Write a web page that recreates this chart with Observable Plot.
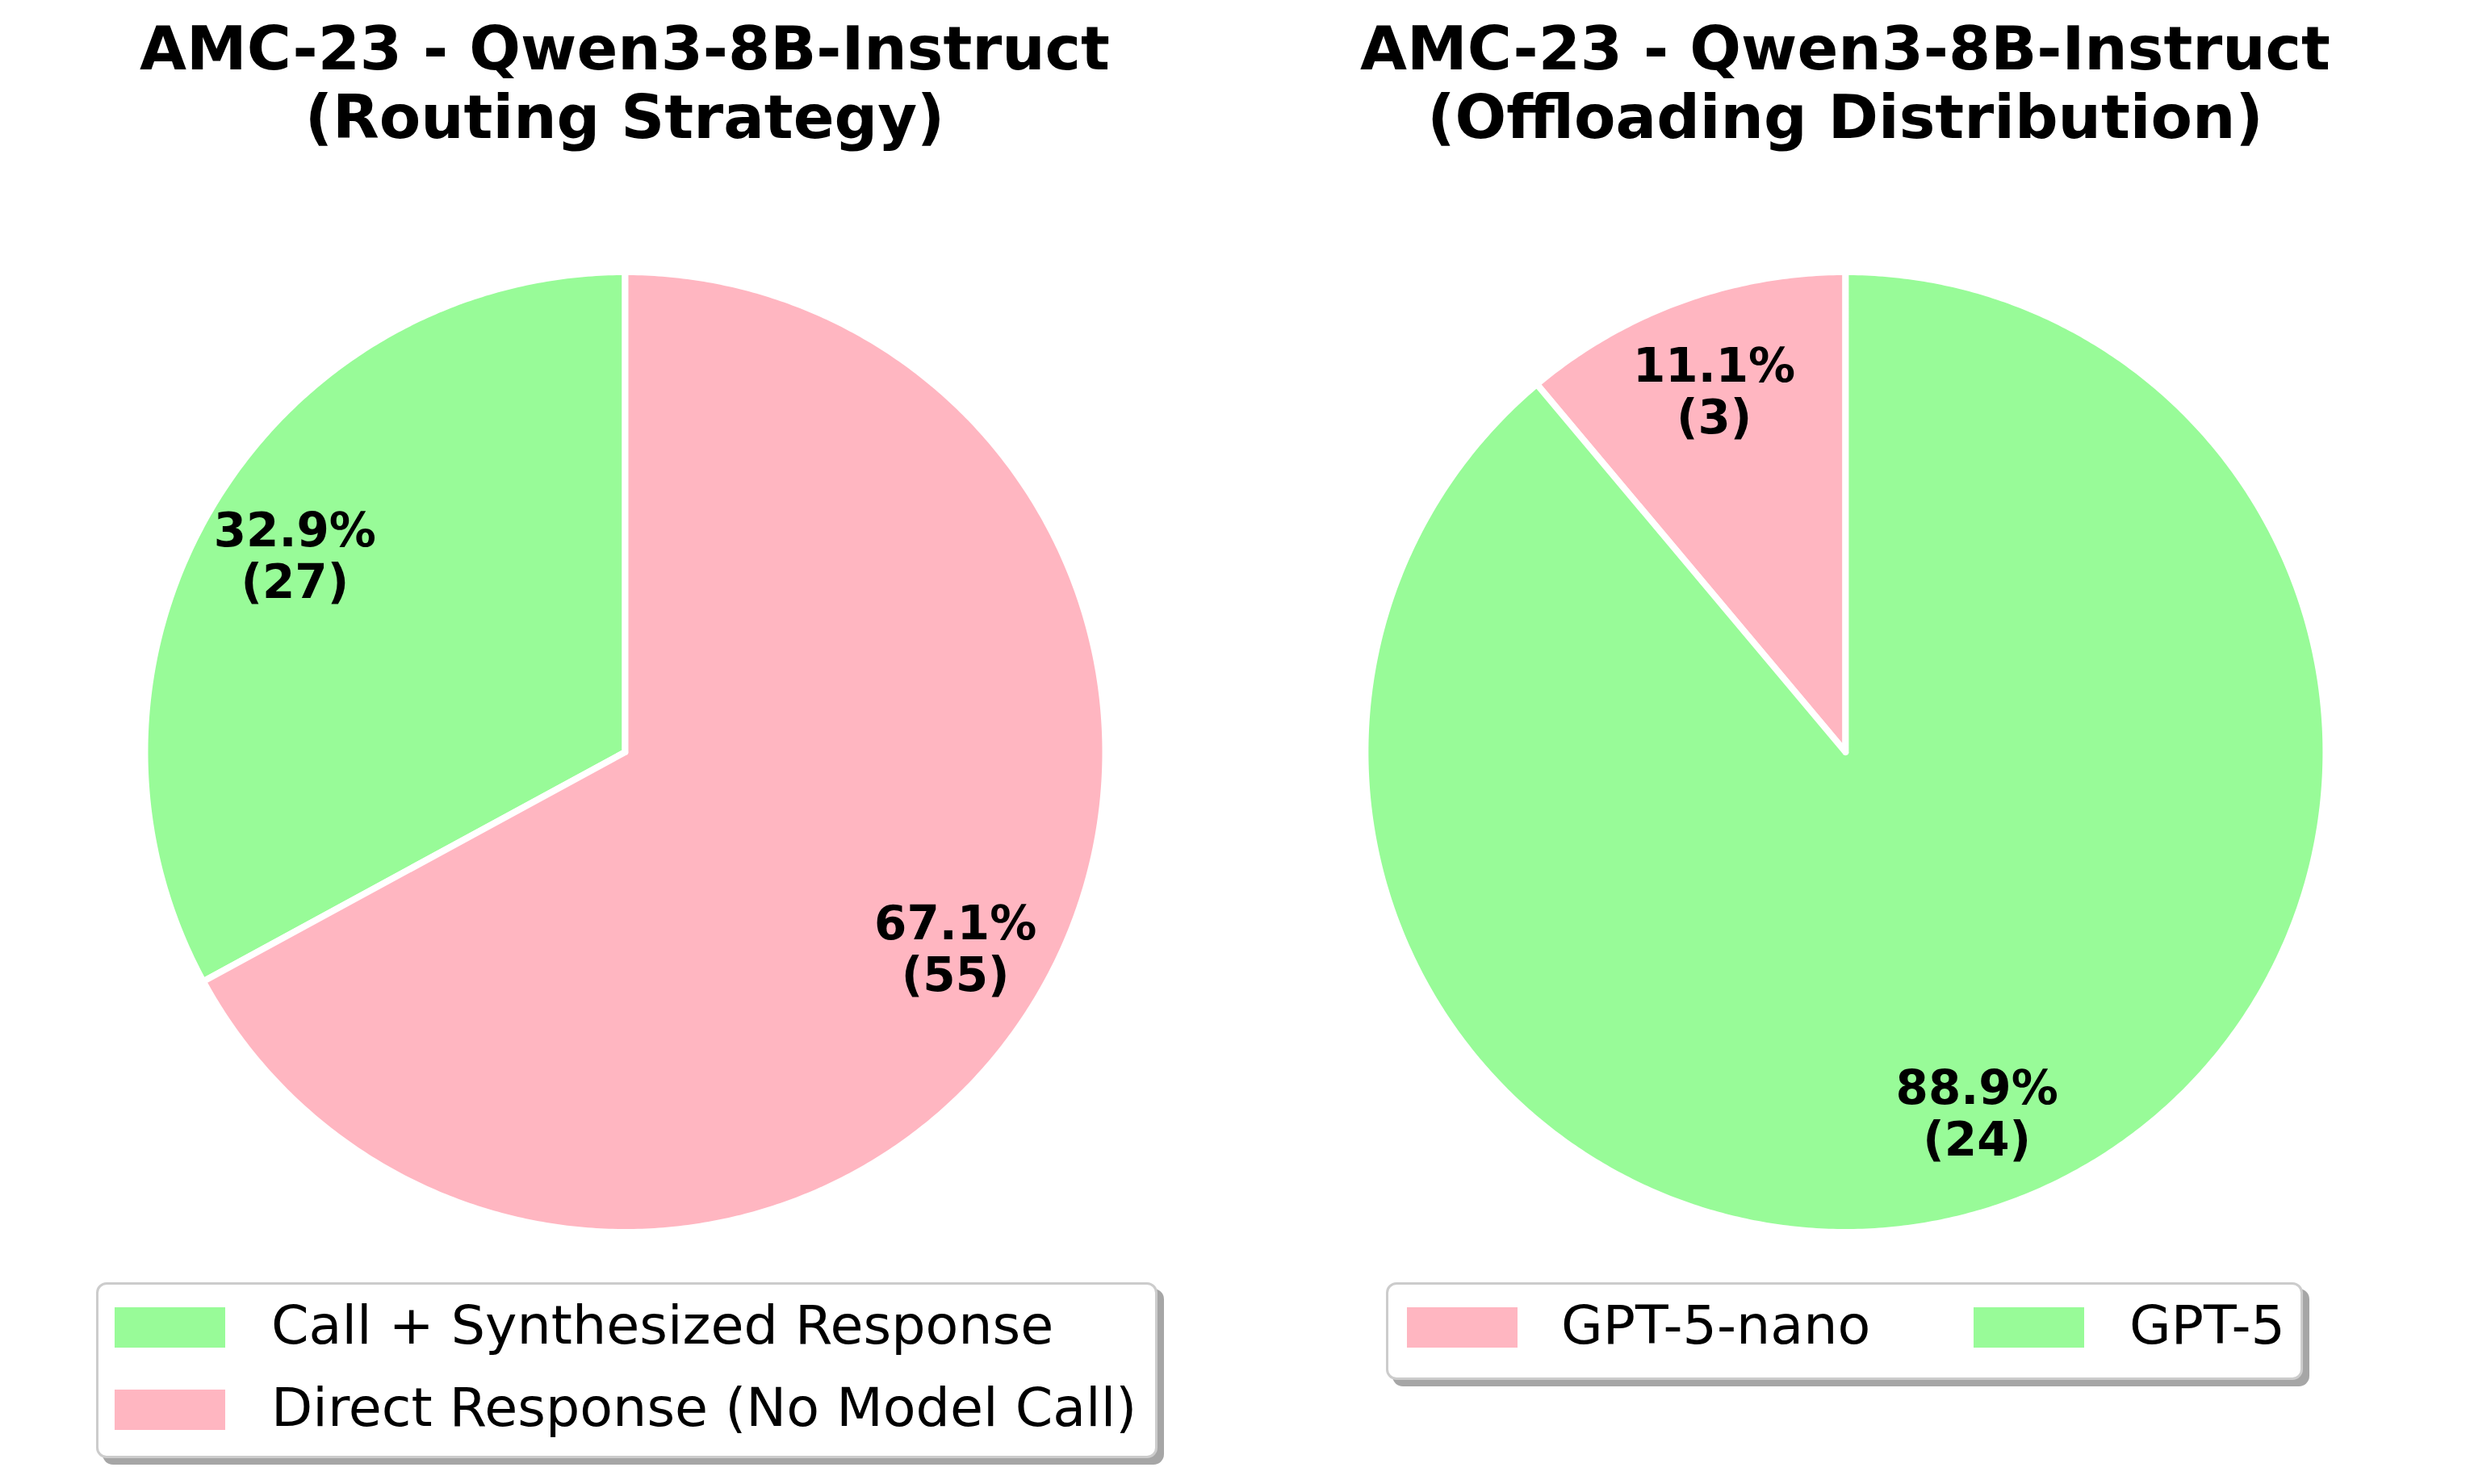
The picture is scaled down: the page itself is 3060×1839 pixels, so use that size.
<!DOCTYPE html>
<html>
<head>
<meta charset="utf-8">
<script src="https://cdn.jsdelivr.net/npm/d3@7"></script>
<script src="https://cdn.jsdelivr.net/npm/@observablehq/plot@0.6"></script>
<style>
  html, body { margin: 0; padding: 0; background: #fff; }
  #stage { position: relative; width: 3060px; height: 1839px; overflow: hidden; font-family: "DejaVu Sans", sans-serif; }
  #stage svg { position: absolute; left: 0; top: 0; }
  .title { position: absolute; width: 1500px; text-align: center; font-weight: bold; font-size: 75px; line-height: 85px; color: #000; white-space: pre; }
  .legend { position: absolute; box-sizing: border-box; border: 3px solid #cccccc; border-radius: 13px; background: #fff; box-shadow: 8px 8px 0 #a6a6a6; }
  .patch { position: absolute; width: 137px; height: 50px; }
  .ltext { position: absolute; font-size: 66.7px; white-space: pre; line-height: 1; color: #000; }
</style>
</head>
<body>
<div id="stage"></div>
<script>
// ---------- data ----------
const routingCategories = ["Call + Synthesized Response", "Direct Response (No Model Call)"];
const routingCounts = [27, 55];
const offloadCategories = ["GPT-5-nano", "GPT-5"];
const offloadCounts = [3, 24];
const chartTitles = [
  "AMC-23 - Qwen3-8B-Instruct\n(Routing Strategy)",
  "AMC-23 - Qwen3-8B-Instruct\n(Offloading Distribution)"
];

// ---------- styles / layout ----------
const GREEN = "#98fb98", PINK = "#ffb6c1";
const colorDomain = [...routingCategories, ...offloadCategories];
const colorRange = [GREEN, PINK, PINK, GREEN];
const pieCentersX = [0, 2.541];      // in radius units
const pctDistance = 0.8;

const pies = [
  {cats: routingCategories, vals: routingCounts},
  {cats: offloadCategories, vals: offloadCounts}
];

const wedgePoints = [];
const labels = [];
pies.forEach((p, pi) => {
  const total = d3.sum(p.vals);
  const cx = pieCentersX[pi];
  let cum = 0;
  p.vals.forEach((v, i) => {
    const a0 = 90 + 360 * cum / total;
    cum += v;
    const a1 = 90 + 360 * cum / total;
    const key = pi + "-" + i;
    const cat = p.cats[i];
    wedgePoints.push({key, cat, x: cx, y: 0});
    const n = Math.max(2, Math.ceil((a1 - a0) / 0.5));
    for (let k = 0; k <= n; k++) {
      const a = (a0 + (a1 - a0) * k / n) * Math.PI / 180;
      wedgePoints.push({key, cat, x: cx + Math.cos(a), y: Math.sin(a)});
    }
    wedgePoints.push({key, cat, x: cx, y: 0});
    const mid = ((a0 + a1) / 2) * Math.PI / 180;
    labels.push({
      x: cx + pctDistance * Math.cos(mid),
      y: pctDistance * Math.sin(mid),
      text: (100 * v / total).toFixed(1) + "%\n(" + v + ")"
    });
  });
});

const chart = Plot.plot({
  width: 3060,
  height: 1839,
  margin: 0,
  x: {domain: [-1.3008, 3.842], axis: null},
  y: {domain: [-1.5252, 1.5655], axis: null},
  color: {domain: colorDomain, range: colorRange},
  style: {background: "transparent", fontFamily: "DejaVu Sans"},
  marks: [
    Plot.line(wedgePoints, {x: "x", y: "y", z: "key", fill: "cat", stroke: "white", strokeWidth: 8, strokeLinejoin: "round", curve: "linear"}),
    Plot.text(labels, {x: "x", y: "y", text: "text", fontSize: 58, fontWeight: "bold", lineHeight: 1.1, fill: "black", fontFamily: "DejaVu Sans"})
  ]
});

const stage = document.getElementById("stage");
stage.appendChild(chart);

// titles
const titleCentersPx = [774, 2286];
chartTitles.forEach((t, i) => {
  const d = document.createElement("div");
  d.className = "title";
  d.textContent = t;
  d.style.left = (titleCentersPx[i] - 750) + "px";
  d.style.top = "18px";
  stage.appendChild(d);
});

// legends
function makeLegend(box, items) {
  const lg = document.createElement("div");
  lg.className = "legend";
  Object.assign(lg.style, {left: box.left + "px", top: box.top + "px", width: box.w + "px", height: box.h + "px"});
  items.forEach(it => {
    const patch = document.createElement("div");
    patch.className = "patch";
    patch.style.background = it.color;
    patch.style.left = (it.px - box.left - 3) + "px";
    patch.style.top = (it.cy - box.top - 3 - 25) + "px";
    lg.appendChild(patch);
    const tx = document.createElement("div");
    tx.className = "ltext";
    tx.textContent = it.label;
    tx.style.left = (it.tx - box.left - 3) + "px";
    tx.style.top = (it.cy - box.top - 3 - 36) + "px";
    lg.appendChild(tx);
  });
  stage.appendChild(lg);
}
const colorOf = c => colorRange[colorDomain.indexOf(c)];
makeLegend({left: 119, top: 1589, w: 1315, h: 218}, routingCategories.map((c, i) => ({
  label: c, color: colorOf(c), px: 142, tx: 336, cy: 1645 + i * 102
})));
makeLegend({left: 1717, top: 1589, w: 1136, h: 121}, offloadCategories.map((c, i) => ({
  label: c, color: colorOf(c), px: [1743, 2445][i], tx: [1934, 2638][i], cy: 1645
})));
</script>
</body>
</html>
